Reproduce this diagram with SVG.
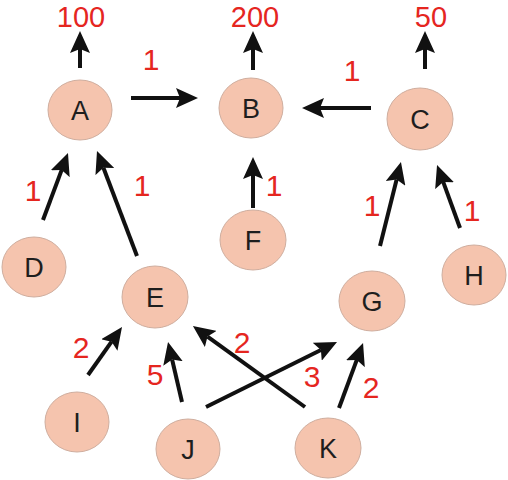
<svg xmlns="http://www.w3.org/2000/svg" width="508" height="480" viewBox="0 0 508 480">
<style>
.node ellipse{fill:#f5c4ae;stroke:#cfae9f;stroke-width:1}
.node text{font-family:"Liberation Sans",Arial,sans-serif;font-size:27px;fill:#1e1e1e;text-anchor:middle}
.lbl{font-family:"Liberation Sans",Arial,sans-serif;font-size:30px;fill:#e5261f;text-anchor:middle}
.top{font-size:29px}
.edges line{stroke:#111;stroke-width:4;marker-end:url(#ah)}
</style>
<defs>
<marker id="ah" markerUnits="userSpaceOnUse" viewBox="0 0 22 20" markerWidth="22" markerHeight="20" refX="4" refY="10" orient="auto">
<path d="M0,0 L22,10 L0,20 L4,10 z" fill="#111"/>
</marker>
</defs>
<g id="node-A" class="node"><ellipse cx="80" cy="110" rx="32" ry="30"/><text x="80" y="120">A</text></g>
<g id="node-B" class="node"><ellipse cx="251" cy="108" rx="32" ry="30"/><text x="251" y="118">B</text></g>
<g id="node-C" class="node"><ellipse cx="420" cy="119" rx="33" ry="31"/><text x="420" y="129">C</text></g>
<g id="node-D" class="node"><ellipse cx="34" cy="267" rx="32" ry="30"/><text x="34" y="277">D</text></g>
<g id="node-E" class="node"><ellipse cx="155" cy="297" rx="33" ry="31"/><text x="155" y="307">E</text></g>
<g id="node-F" class="node"><ellipse cx="253" cy="240" rx="33" ry="30"/><text x="253" y="250">F</text></g>
<g id="node-G" class="node"><ellipse cx="372" cy="301" rx="33" ry="30"/><text x="372" y="311">G</text></g>
<g id="node-H" class="node"><ellipse cx="474" cy="275" rx="32" ry="30"/><text x="474" y="285">H</text></g>
<g id="node-I" class="node"><ellipse cx="77" cy="422" rx="32" ry="30"/><text x="77" y="432">I</text></g>
<g id="node-J" class="node"><ellipse cx="188" cy="449" rx="32" ry="30"/><text x="188" y="459">J</text></g>
<g id="node-K" class="node"><ellipse cx="328" cy="448" rx="33" ry="30"/><text x="328" y="458">K</text></g>
<g id="edges" class="edges">
<line x1="80" y1="68" x2="80" y2="49"/>
<line x1="253" y1="70" x2="253" y2="49"/>
<line x1="425" y1="69" x2="425" y2="49"/>
<line x1="131" y1="98" x2="180" y2="98"/>
<line x1="371" y1="108" x2="320" y2="108"/>
<line x1="43" y1="220" x2="61.7" y2="169.9"/>
<line x1="137" y1="256" x2="103.4" y2="167.8"/>
<line x1="253" y1="208" x2="253" y2="175"/>
<line x1="380" y1="246" x2="396.6" y2="179.5"/>
<line x1="460" y1="228" x2="443.2" y2="181.9"/>
<line x1="88" y1="375" x2="111.6" y2="341.7"/>
<line x1="182" y1="402" x2="172.1" y2="359.5"/>
<line x1="305" y1="407" x2="207.5" y2="336.6"/>
<line x1="206" y1="407" x2="320.9" y2="350"/>
<line x1="339" y1="408" x2="356.8" y2="359.9"/>
</g>
<g id="labels">
<text class="lbl top" x="81" y="27">100</text>
<text class="lbl top" x="255" y="27">200</text>
<text class="lbl top" x="431" y="27">50</text>
<text class="lbl" x="151" y="70">1</text>
<text class="lbl" x="352" y="81">1</text>
<text class="lbl" x="33" y="201">1</text>
<text class="lbl" x="142" y="196">1</text>
<text class="lbl" x="274" y="196">1</text>
<text class="lbl" x="372" y="216">1</text>
<text class="lbl" x="472" y="221">1</text>
<text class="lbl" x="81" y="358">2</text>
<text class="lbl" x="155" y="385">5</text>
<text class="lbl" x="242" y="353">2</text>
<text class="lbl" x="312" y="387">3</text>
<text class="lbl" x="371" y="398">2</text>
</g>
</svg>
